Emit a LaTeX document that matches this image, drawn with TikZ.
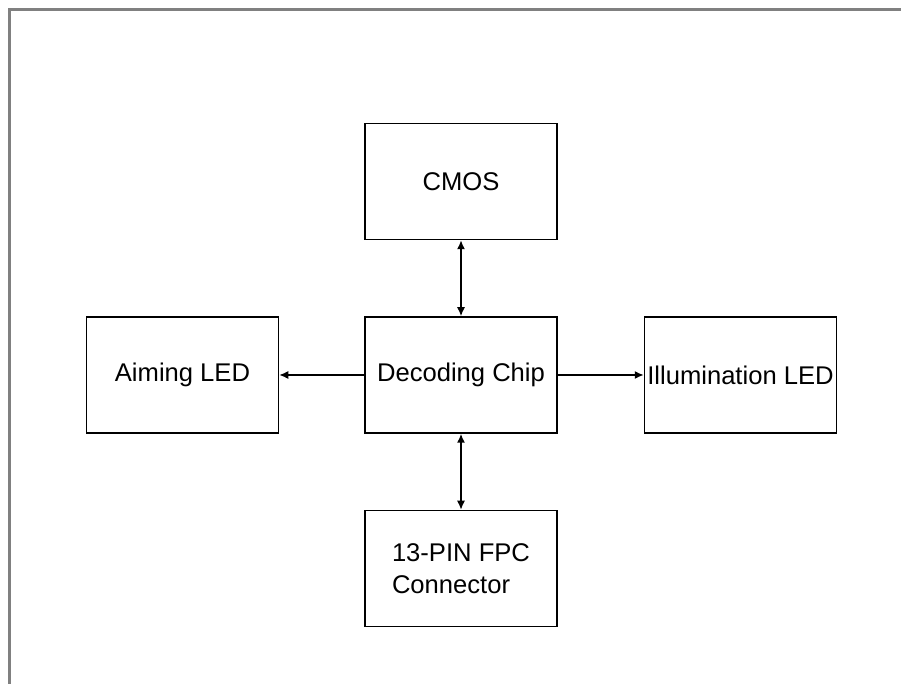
\documentclass[tikz,border=0pt]{standalone}
\usepackage{fontspec}
\setmainfont{Liberation Sans}
\usetikzlibrary{positioning, arrows.meta}

\begin{document}
\begin{tikzpicture}[x=0.5pt, y=-0.5pt,
    node distance=38pt and 43pt,
    every node/.style = {draw, line width=0.75pt, minimum width=96pt, minimum height=58pt,
      inner sep=1pt, align=center, font=\fontsize{12.8}{15.75}\selectfont},
    signalArrow/.style = {-{Latex[length=4.5pt, width=4pt]}, line width=0.75pt},
    busArrow/.style = {{Latex[length=4.5pt, width=4pt]}-{Latex[length=4.5pt, width=4pt]}, line width=0.75pt},
    ]
    \useasboundingbox (0,0) rectangle (901,684);
    % frame
    \draw [gray, line width=1.1pt] (9.5,720) -- (9.5,9.5) -- (920,9.5);

    \node (chip) at (461,375) {Decoding Chip};
    \node (cmos) [above=of chip] {CMOS};
    \node (fpc) [below=of chip, align=left] {13-PIN FPC\\Connector};
    \node (aim) [left=42.5pt of chip] {Aiming LED};
    \node (illum) [right=of chip] {Illumination LED};

    \draw [busArrow] (cmos) -- (chip);
    \draw [busArrow] (chip) -- (fpc);
    \draw [signalArrow] (chip) -- (aim);
    \draw [signalArrow] (chip) -- (illum);
\end{tikzpicture}
\end{document}
